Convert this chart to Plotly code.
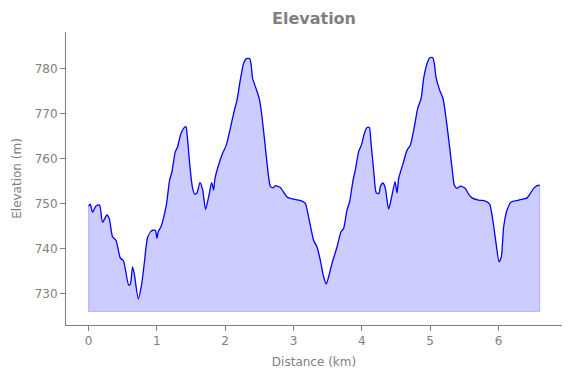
import plotly.graph_objects as go

distance_km = [0.0, 0.025, 0.059, 0.108, 0.161, 0.205, 0.269, 0.303, 0.351, 0.401,
               0.464, 0.512, 0.586, 0.611, 0.644, 0.669, 0.728, 0.772, 0.816, 0.864,
               0.922, 0.977, 1.001, 1.020, 1.060, 1.138, 1.186, 1.221, 1.269, 1.303,
               1.343, 1.391, 1.426, 1.441, 1.489, 1.523, 1.558, 1.587, 1.631, 1.669,
               1.713, 1.763, 1.801, 1.821, 1.830, 1.851, 1.903, 1.962, 2.016, 2.075,
               2.129, 2.173, 2.221, 2.269, 2.309, 2.357, 2.378, 2.401, 2.451, 2.499,
               2.539, 2.587, 2.635, 2.660, 2.700, 2.733, 2.807, 2.855, 2.905, 3.001,
               3.124, 3.173, 3.221, 3.294, 3.344, 3.392, 3.441, 3.480, 3.514, 3.564,
               3.637, 3.695, 3.733, 3.783, 3.821, 3.871, 3.905, 3.953, 3.993, 4.037,
               4.076, 4.110, 4.135, 4.173, 4.212, 4.252, 4.271, 4.310, 4.344, 4.392,
               4.442, 4.486, 4.515, 4.539, 4.603, 4.662, 4.710, 4.769, 4.817, 4.867,
               4.905, 4.955, 4.993, 5.037, 5.061, 5.086, 5.139, 5.189, 5.237, 5.285,
               5.335, 5.354, 5.394, 5.442, 5.515, 5.564, 5.613, 5.710, 5.808, 5.871,
               5.921, 5.965, 6.009, 6.042, 6.076, 6.126, 6.185, 6.296, 6.419, 6.467,
               6.515, 6.567, 6.603]

elevation_m = [749.5, 749.9, 748.1, 749.5, 749.7, 745.9, 747.5, 746.7, 742.7, 741.9,
               738.0, 737.3, 732.0, 732.1, 736.0, 734.5, 728.9, 731.6, 736.8, 742.5,
               744.0, 744.1, 742.3, 743.8, 744.9, 749.7, 755.2, 757.1, 761.5, 762.6,
               765.1, 766.7, 767.1, 765.6, 757.5, 753.4, 752.1, 752.4, 754.7, 753.2,
               748.7, 751.9, 754.7, 753.7, 753.0, 755.6, 758.6, 761.2, 763.0, 766.7,
               770.4, 773.0, 777.4, 781.1, 782.2, 782.2, 781.1, 777.8, 775.6, 773.3,
               769.3, 762.6, 756.0, 753.9, 753.5, 754.0, 753.6, 752.6, 751.5, 751.0,
               750.6, 750.1, 747.1, 741.9, 740.4, 737.5, 733.8, 732.2, 733.8, 736.8,
               740.4, 743.8, 744.5, 748.6, 750.4, 755.2, 757.5, 761.5, 763.0, 765.6,
               766.9, 766.9, 763.4, 757.5, 752.4, 752.3, 753.8, 754.6, 753.4, 748.8,
               751.9, 754.9, 752.4, 755.6, 758.9, 761.9, 763.0, 767.1, 771.1, 773.3,
               777.8, 781.1, 782.4, 782.4, 781.1, 778.1, 775.2, 773.3, 768.5, 762.6,
               756.0, 754.1, 753.4, 753.9, 753.4, 752.1, 751.3, 750.8, 750.6, 749.9,
               746.0, 741.2, 737.1, 738.2, 744.9, 748.6, 750.4, 750.8, 751.3, 752.3,
               753.4, 754.0, 754.1]

fill_base_m = 726.1
x_ticks = [0, 1, 2, 3, 4, 5, 6]
y_ticks = [730, 740, 750, 760, 770, 780]

gray = "#808080"
font = "DejaVu Sans"

fig = go.Figure()

# base outline of the filled area (left edge, bottom, right edge)
fig.add_trace(go.Scatter(
    x=[distance_km[0], distance_km[0], distance_km[-1], distance_km[-1]],
    y=[elevation_m[0], fill_base_m, fill_base_m, elevation_m[-1]],
    mode="lines", line=dict(color="rgba(0,0,255,0.2)", width=1.2),
    hoverinfo="skip", showlegend=False))

fig.add_trace(go.Scatter(
    x=distance_km, y=elevation_m, mode="lines",
    line=dict(color="blue", width=1.3, shape="spline", smoothing=0.6),
    fill="tonexty", fillcolor="rgba(0,0,255,0.2)",
    showlegend=False))

fig.update_layout(
    width=571, height=378,
    margin=dict(l=66, r=9, t=32, b=53, autoexpand=False),
    paper_bgcolor="white", plot_bgcolor="white",
    font=dict(family=font, size=12, color=gray),
    title=dict(text="<b>Elevation</b>", x=(66 + 562) / 2 / 571, xanchor="center",
               y=1 - 18 / 378, yanchor="middle",
               font=dict(family=font, size=16, color=gray)),
    xaxis=dict(range=[-0.33, 6.93], tickvals=x_ticks, ticks="outside", ticklen=5,
               tickcolor=gray, showline=True, linecolor=gray, linewidth=1,
               showgrid=False, zeroline=False, automargin=False,
               title=dict(text="Distance (km)", font=dict(size=12, color=gray), standoff=10),
               tickfont=dict(size=12, color=gray)),
    yaxis=dict(range=[723.1, 788.1], tickvals=y_ticks, ticks="outside", ticklen=5,
               tickcolor=gray, showline=True, linecolor=gray, linewidth=1,
               showgrid=False, zeroline=False, automargin=False,
               title=dict(text="Elevation (m)", font=dict(size=12, color=gray), standoff=10),
               tickfont=dict(size=12, color=gray)),
)

fig.write_html("out.html", config={"displayModeBar": False},
               post_script="document.body.style.margin='0';")
